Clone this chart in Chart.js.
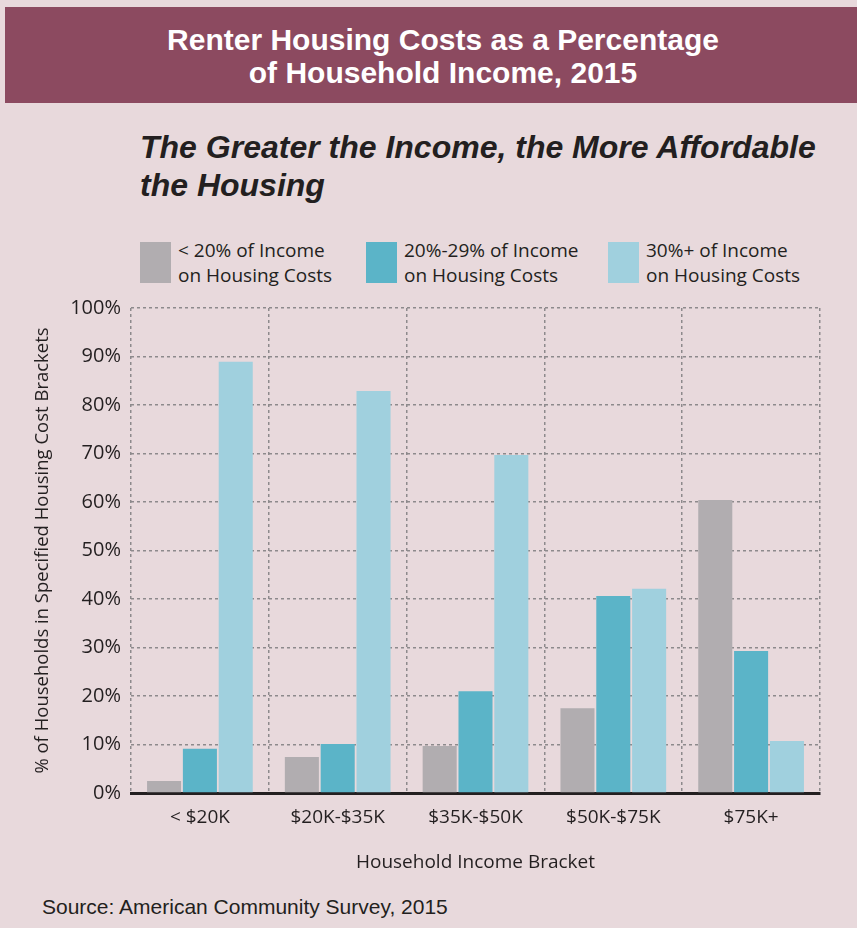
<!DOCTYPE html>
<html lang="en">
<head>
  <meta charset="UTF-8">
  <title>Renter Housing Costs</title>
  <script src="https://cdn.jsdelivr.net/npm/chart.js"></script>
  <style>
    body { margin: 0; background: #fff; }
    #page { position: relative; width: 857px; height: 928px; background: #e8d9dc; overflow: hidden; }
    #band { position: absolute; left: 5px; top: 7px; width: 852px; height: 96px; background: #8c4a60; }
    #title { position: absolute; left: 0; top: 23px; width: 886px; text-align: center; color: #fff;
      font: bold 30px "Liberation Sans", Arial, sans-serif; line-height: 33px; }
    #subtitle { position: absolute; left: 140px; top: 128px; color: #231f20;
      font: italic bold 32px "Liberation Sans", Arial, sans-serif; line-height: 38px; }
    .leg { position: absolute; top: 242px; }
    .sw { position: absolute; left: 0; top: 0; width: 31px; height: 41px; }
    .lt { position: absolute; top: -4px; white-space: nowrap; color: #231f20;
      font: 19px "Open Sans", sans-serif; line-height: 25px; }
    #source { position: absolute; left: 42px; top: 895px; color: #231f20;
      font: 21px "Liberation Sans", Arial, sans-serif; }
    canvas { position: absolute; left: 0; top: 0; }
  </style>
</head>
<body>
<div id="page">
  <div id="band"></div>
  <div id="title">Renter Housing Costs as a Percentage<br>of Household Income, 2015</div>
  <div id="subtitle">The Greater the Income, the More Affordable<br>the Housing</div>
  <div id="legend"></div>
  <div id="source">Source: American Community Survey, 2015</div>
  <canvas id="chart" width="857" height="928"></canvas>
</div>
<script>
  const brackets = ['< $20K', '$20K-$35K', '$35K-$50K', '$50K-$75K', '$75K+'];
  const under20 = [2.5, 7.4, 9.7, 17.5, 60.4];
  const from20to29 = [9.1, 10.1, 21.0, 40.6, 29.3];
  const over30 = [88.9, 82.9, 69.7, 42.1, 10.7];
  const seriesNames = [
    ['< 20% of Income', 'on Housing Costs'],
    ['20%-29% of Income', 'on Housing Costs'],
    ['30%+ of Income', 'on Housing Costs']
  ];
  const colors = ['#b1adb0', '#5bb4c8', '#a0d0de'];

  // legend
  const legendX = [140, 366, 608];
  const legend = document.getElementById('legend');
  seriesNames.forEach((name, i) => {
    const d = document.createElement('div');
    d.className = 'leg';
    d.style.left = legendX[i] + 'px';
    d.innerHTML = `<div class="sw" style="background:${colors[i]}"></div>
      <div class="lt" style="left:38px">${name[0].replace('<', '&lt;')}<br>${name[1]}</div>`;
    legend.appendChild(d);
  });

  const tickFont = { family: 'Open Sans', size: 19 };
  const grid = { color: '#8d8a8c', lineWidth: 1.5, drawTicks: false };

  new Chart(document.getElementById('chart'), {
    type: 'bar',
    data: {
      labels: brackets,
      datasets: [
        { data: under20, backgroundColor: colors[0] },
        { data: from20to29, backgroundColor: colors[1] },
        { data: over30, backgroundColor: colors[2] }
      ]
    },
    options: {
      responsive: false,
      animation: false,
      categoryPercentage: 0.78,
      barPercentage: 0.95,
      layout: { padding: { top: 308, left: 0, right: 37, bottom: 50 } },
      plugins: { legend: { display: false }, tooltip: { enabled: false } },
      scales: {
        x: {
          grid: grid,
          border: { color: '#231f20', width: 3, dash: [3, 3] },
          ticks: { color: '#231f20', font: tickFont, padding: 13 },
          title: { display: true, text: 'Household Income Bracket', color: '#231f20',
            font: tickFont, padding: { top: 8 } },
          afterFit: s => { s.height = 85; }
        },
        y: {
          min: 0, max: 100,
          grid: grid,
          border: { display: false, dash: [3, 3] },
          ticks: { stepSize: 10, color: '#231f20', font: { family: 'Open Sans', size: 20 },
            padding: 10, callback: v => v + '%' },
          title: { display: true, text: '% of Households in Specified Housing Cost Brackets',
            color: '#231f20', font: { family: 'Open Sans', size: 18.5 }, padding: { top: 32, bottom: 0 } },
          afterFit: s => { s.width = 131; }
        }
      }
    }
  });
</script>
</body>
</html>
